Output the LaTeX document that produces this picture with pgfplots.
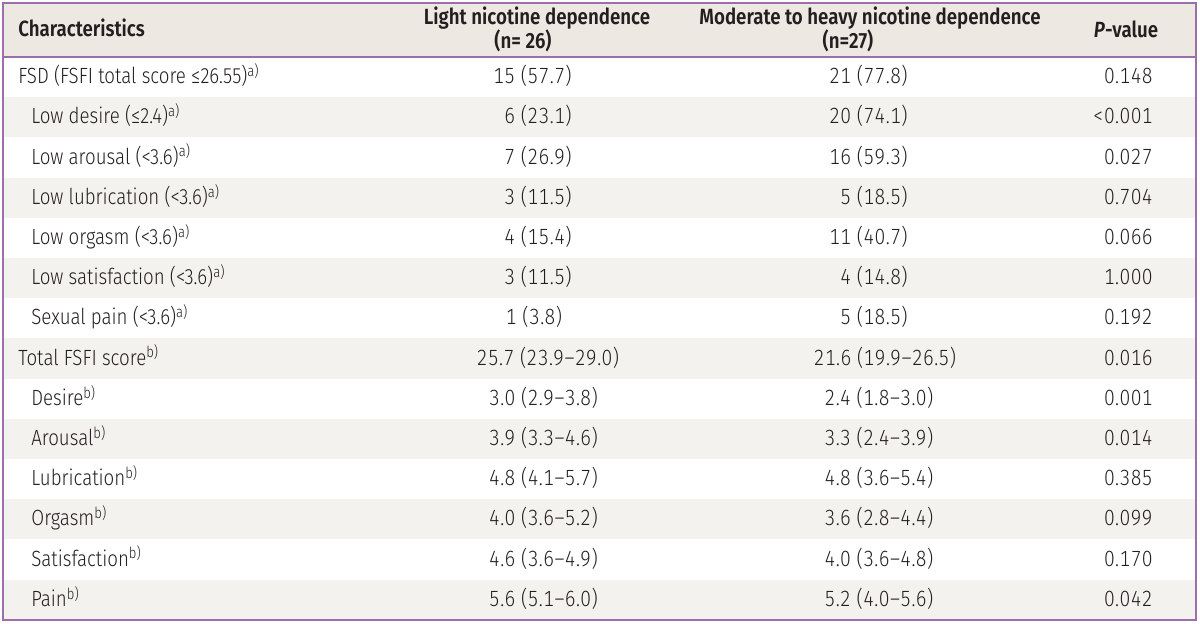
\documentclass[border=0pt]{standalone}
\usepackage{pgfplots}
\pgfplotsset{compat=1.18}
\usepackage{fontspec}
\setmainfont{Fira Sans Light}[FakeStretch=0.85, BoldFont={Fira Sans SemiBold}, ItalicFont={Fira Sans Light Italic}, BoldItalicFont={Fira Sans SemiBold Italic}]
\newfontfamily\numfont{Fira Sans Light}[FakeStretch=0.87, Numbers=Monospaced, LetterSpace=2]
\definecolor{hdr}{HTML}{EDE9E2}
\definecolor{shd}{HTML}{F4F2EE}
\definecolor{brd}{HTML}{9C6FAA}
\definecolor{txt}{HTML}{231F20}
\newcommand{\sa}{\textsuperscript{a)}}
\newcommand{\sbb}{\textsuperscript{b)}}
\newcommand{\fs}{\fontsize{13.2}{15}\selectfont}
\begin{document}
\begin{tikzpicture}[every node/.style={text=txt, inner sep=0pt, text height=1.6ex, text depth=0.4ex, font=\fs, yshift=-0.8pt}]
\begin{axis}[hide axis, scale only axis, width=720pt, height=373.8pt,
  xmin=0, xmax=1200, ymin=0, ymax=623, y dir=reverse, clip=false]
\addplot[draw=none] coordinates {(0,0) (1200,623)};
% backgrounds
\fill[hdr] (axis cs:3,3) rectangle (axis cs:1196,56);
\fill[shd] (axis cs:3,97.2) rectangle (axis cs:1196,137.4);
\fill[shd] (axis cs:3,177.6) rectangle (axis cs:1196,217.8);
\fill[shd] (axis cs:3,258) rectangle (axis cs:1196,298.2);
\fill[shd] (axis cs:3,338.4) rectangle (axis cs:1196,378.6);
\fill[shd] (axis cs:3,418.8) rectangle (axis cs:1196,459);
\fill[shd] (axis cs:3,499.2) rectangle (axis cs:1196,539.4);
\fill[shd] (axis cs:3,579.6) rectangle (axis cs:1196,619.8);
\draw[brd, line width=1.2pt] (axis cs:3,56.5) -- (axis cs:1196,56.5);
\draw[brd, line width=1.2pt] (axis cs:3,3) rectangle (axis cs:1196,620);
% header
\node[anchor=west, font=\fs\bfseries] at (axis cs:18,30) {Characteristics};
\node[font=\fs\bfseries] at (axis cs:537,18) {Light nicotine dependence};
\node[font=\fs\bfseries] at (axis cs:523,41.5) {(n= 26)};
\node[font=\fs\bfseries] at (axis cs:870,18) {Moderate to heavy nicotine dependence};
\node[font=\fs\bfseries] at (axis cs:848,41.5) {(n=27)};
\node[font=\fs\bfseries] at (axis cs:1126,30.5) {\textit{P}-value};
% rows
\tikzset{nv/.style={font=\fs\numfont}}
\node[anchor=west] at (axis cs:18,77.1) {FSD (FSFI total score ≤26.55)\sa};
\node[nv, anchor=east] at (axis cs:572,77.1) {15 (57.7)};
\node[nv, anchor=east] at (axis cs:908,77.1) {21 (77.8)};
\node[nv, anchor=east] at (axis cs:1153,77.1) {0.148};
\node[anchor=west] at (axis cs:31,117.3) {Low desire (≤2.4)\sa};
\node[nv, anchor=east] at (axis cs:572,117.3) {6 (23.1)};
\node[nv, anchor=east] at (axis cs:908,117.3) {20 (74.1)};
\node[nv, anchor=east] at (axis cs:1153,117.3) {<0.001};
\node[anchor=west] at (axis cs:31,157.5) {Low arousal (<3.6)\sa};
\node[nv, anchor=east] at (axis cs:572,157.5) {7 (26.9)};
\node[nv, anchor=east] at (axis cs:908,157.5) {16 (59.3)};
\node[nv, anchor=east] at (axis cs:1153,157.5) {0.027};
\node[anchor=west] at (axis cs:31,197.7) {Low lubrication (<3.6)\sa};
\node[nv, anchor=east] at (axis cs:572,197.7) {3 (11.5)};
\node[nv, anchor=east] at (axis cs:908,197.7) {5 (18.5)};
\node[nv, anchor=east] at (axis cs:1153,197.7) {0.704};
\node[anchor=west] at (axis cs:31,237.9) {Low orgasm (<3.6)\sa};
\node[nv, anchor=east] at (axis cs:572,237.9) {4 (15.4)};
\node[nv, anchor=east] at (axis cs:908,237.9) {11 (40.7)};
\node[nv, anchor=east] at (axis cs:1153,237.9) {0.066};
\node[anchor=west] at (axis cs:31,278.1) {Low satisfaction (<3.6)\sa};
\node[nv, anchor=east] at (axis cs:572,278.1) {3 (11.5)};
\node[nv, anchor=east] at (axis cs:908,278.1) {4 (14.8)};
\node[nv, anchor=east] at (axis cs:1153,278.1) {1.000};
\node[anchor=west] at (axis cs:31,318.3) {Sexual pain (<3.6)\sa};
\node[nv] at (axis cs:534,318.3) {1 (3.8)};
\node[nv, anchor=east] at (axis cs:908,318.3) {5 (18.5)};
\node[nv, anchor=east] at (axis cs:1153,318.3) {0.192};
\node[anchor=west] at (axis cs:18,358.5) {Total FSFI score\sbb};
\node[nv] at (axis cs:548,358.5) {25.7 (23.9–29.0)};
\node[nv] at (axis cs:885,358.5) {21.6 (19.9–26.5)};
\node[nv, anchor=east] at (axis cs:1153,358.5) {0.016};
\node[anchor=west] at (axis cs:31,398.7) {Desire\sbb};
\node[nv] at (axis cs:543.5,398.7) {3.0 (2.9–3.8)};
\node[nv] at (axis cs:879,398.7) {2.4 (1.8–3.0)};
\node[nv, anchor=east] at (axis cs:1153,398.7) {0.001};
\node[anchor=west] at (axis cs:31,438.9) {Arousal\sbb};
\node[nv] at (axis cs:543.5,438.9) {3.9 (3.3–4.6)};
\node[nv] at (axis cs:879,438.9) {3.3 (2.4–3.9)};
\node[nv, anchor=east] at (axis cs:1153,438.9) {0.014};
\node[anchor=west] at (axis cs:31,479.1) {Lubrication\sbb};
\node[nv] at (axis cs:543.5,479.1) {4.8 (4.1–5.7)};
\node[nv] at (axis cs:879,479.1) {4.8 (3.6–5.4)};
\node[nv, anchor=east] at (axis cs:1153,479.1) {0.385};
\node[anchor=west] at (axis cs:31,519.3) {Orgasm\sbb};
\node[nv] at (axis cs:543.5,519.3) {4.0 (3.6–5.2)};
\node[nv] at (axis cs:879,519.3) {3.6 (2.8–4.4)};
\node[nv, anchor=east] at (axis cs:1153,519.3) {0.099};
\node[anchor=west] at (axis cs:31,559.5) {Satisfaction\sbb};
\node[nv] at (axis cs:543.5,559.5) {4.6 (3.6–4.9)};
\node[nv] at (axis cs:879,559.5) {4.0 (3.6–4.8)};
\node[nv, anchor=east] at (axis cs:1153,559.5) {0.170};
\node[anchor=west] at (axis cs:31,599.7) {Pain\sbb};
\node[nv] at (axis cs:543.5,599.7) {5.6 (5.1–6.0)};
\node[nv] at (axis cs:879,599.7) {5.2 (4.0–5.6)};
\node[nv, anchor=east] at (axis cs:1153,599.7) {0.042};
\end{axis}
\end{tikzpicture}
\end{document}
